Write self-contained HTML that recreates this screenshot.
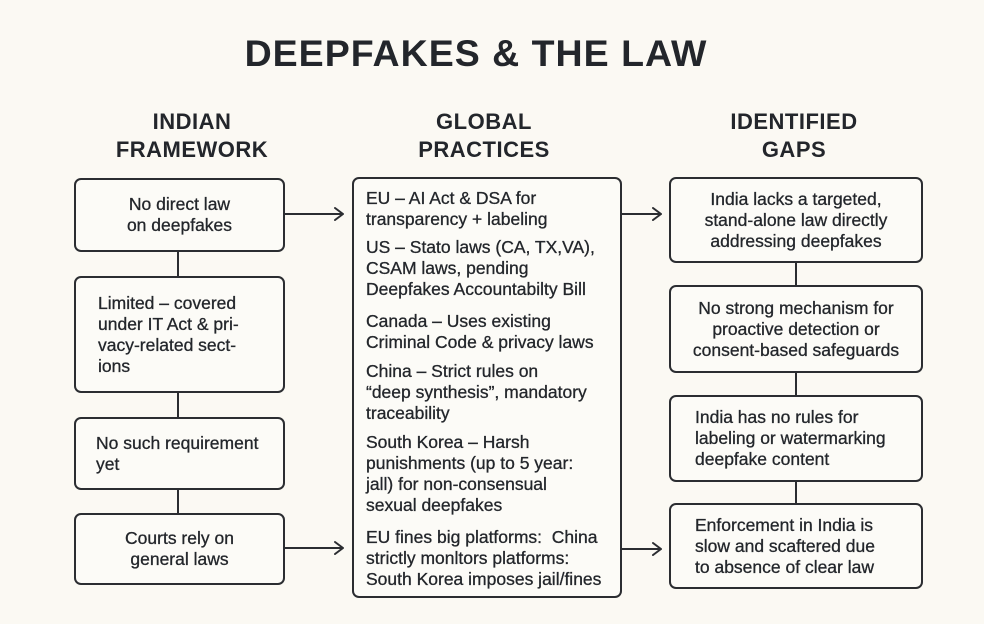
<!DOCTYPE html>
<html><head><meta charset="utf-8"><style>
body{margin:0;background:#fbf9f3;width:984px;height:624px;position:relative;overflow:hidden;font-family:"Liberation Sans",Arial,sans-serif;color:#23262b}
.t{position:absolute;left:0;width:984px;top:32px;text-align:center;font-weight:bold;font-size:37.5px;letter-spacing:1px;margin-left:-16px}
.h{position:absolute;font-weight:bold;font-size:22px;text-align:center;line-height:28px;letter-spacing:.5px}
.b{position:absolute;border:2px solid #2b2d31;border-radius:7px;box-sizing:border-box;display:flex;align-items:center;justify-content:center;text-align:center;font-size:17.5px;line-height:21px;background:#fcfbf7;-webkit-text-stroke:0.3px #23262b}
.p{position:absolute;left:366px;font-size:17.5px;line-height:21px;white-space:nowrap;-webkit-text-stroke:0.3px #23262b}
.v{position:absolute;width:2px;background:#2b2d31}
</style></head><body>
<div class="t">DEEPFAKES &amp; THE LAW</div>
<div class="h" style="left:92px;width:200px;top:108px">INDIAN<br>FRAMEWORK</div>
<div class="h" style="left:384px;width:200px;top:108px">GLOBAL<br>PRACTICES</div>
<div class="h" style="left:694px;width:200px;top:108px">IDENTIFIED<br>GAPS</div>

<div class="b" style="left:74px;top:178px;width:211px;height:74px">No direct law<br>on deepfakes</div>
<div class="b" style="left:74px;top:276px;width:211px;height:117px;justify-content:flex-start;text-align:left;padding-left:22px">Limited – covered<br>under IT Act &amp; pri-<br>vacy-related sect-<br>ions</div>
<div class="b" style="left:74px;top:417px;width:211px;height:73px;justify-content:flex-start;text-align:left;padding-left:20px">No such requirement<br>yet</div>
<div class="b" style="left:74px;top:513px;width:211px;height:72px">Courts rely on<br>general laws</div>
<div class="v" style="left:177px;top:252px;height:24px"></div>
<div class="v" style="left:177px;top:393px;height:24px"></div>
<div class="v" style="left:177px;top:490px;height:23px"></div>

<div class="b" style="left:352px;top:177px;width:270px;height:421px"></div>
<div class="p" style="top:188px">EU – AI Act &amp; DSA for<br>transparency + labeling</div>
<div class="p" style="top:237px">US – Stato laws (CA, TX,VA),<br>CSAM laws, pending<br>Deepfakes Accountabilty Bill</div>
<div class="p" style="top:311px">Canada – Uses existing<br>Criminal Code &amp; privacy laws</div>
<div class="p" style="top:361px">China – Strict rules on<br>“deep synthesis”, mandatory<br>traceability</div>
<div class="p" style="top:432px">South Korea – Harsh<br>punishments (up to 5 year:<br>jall) for non-consensual<br>sexual deepfakes</div>
<div class="p" style="top:527px">EU fines big platforms:&nbsp; China<br>strictly monltors platforms:<br>South Korea imposes jail/fines</div>

<div class="b" style="left:669px;top:177px;width:254px;height:86px">India lacks a targeted,<br>stand-alone law directly<br>addressing deepfakes</div>
<div class="b" style="left:669px;top:285px;width:254px;height:88px">No strong mechanism for<br>proactive detection or<br>consent-based safeguards</div>
<div class="b" style="left:669px;top:395px;width:254px;height:87px;justify-content:flex-start;text-align:left;padding-left:24px">India has no rules for<br>labeling or watermarking<br>deepfake content</div>
<div class="b" style="left:669px;top:503px;width:254px;height:86px;justify-content:flex-start;text-align:left;padding-left:24px">Enforcement in India is<br>slow and scaftered due<br>to absence of clear law</div>
<div class="v" style="left:795px;top:263px;height:22px"></div>
<div class="v" style="left:795px;top:373px;height:22px"></div>
<div class="v" style="left:795px;top:482px;height:21px"></div>

<svg style="position:absolute;left:0;top:0" width="984" height="624">
<g stroke="#2b2d31" stroke-width="2" fill="none" stroke-linecap="round" stroke-linejoin="round">
<path d="M285 214H343M335 208L343 214L335 220"/>
<path d="M285 548H343M335 542L343 548L335 554"/>
<path d="M622 214H661M653 208L661 214L653 220"/>
<path d="M622 549H661M653 543L661 549L653 555"/>
</g></svg>
</body></html>
